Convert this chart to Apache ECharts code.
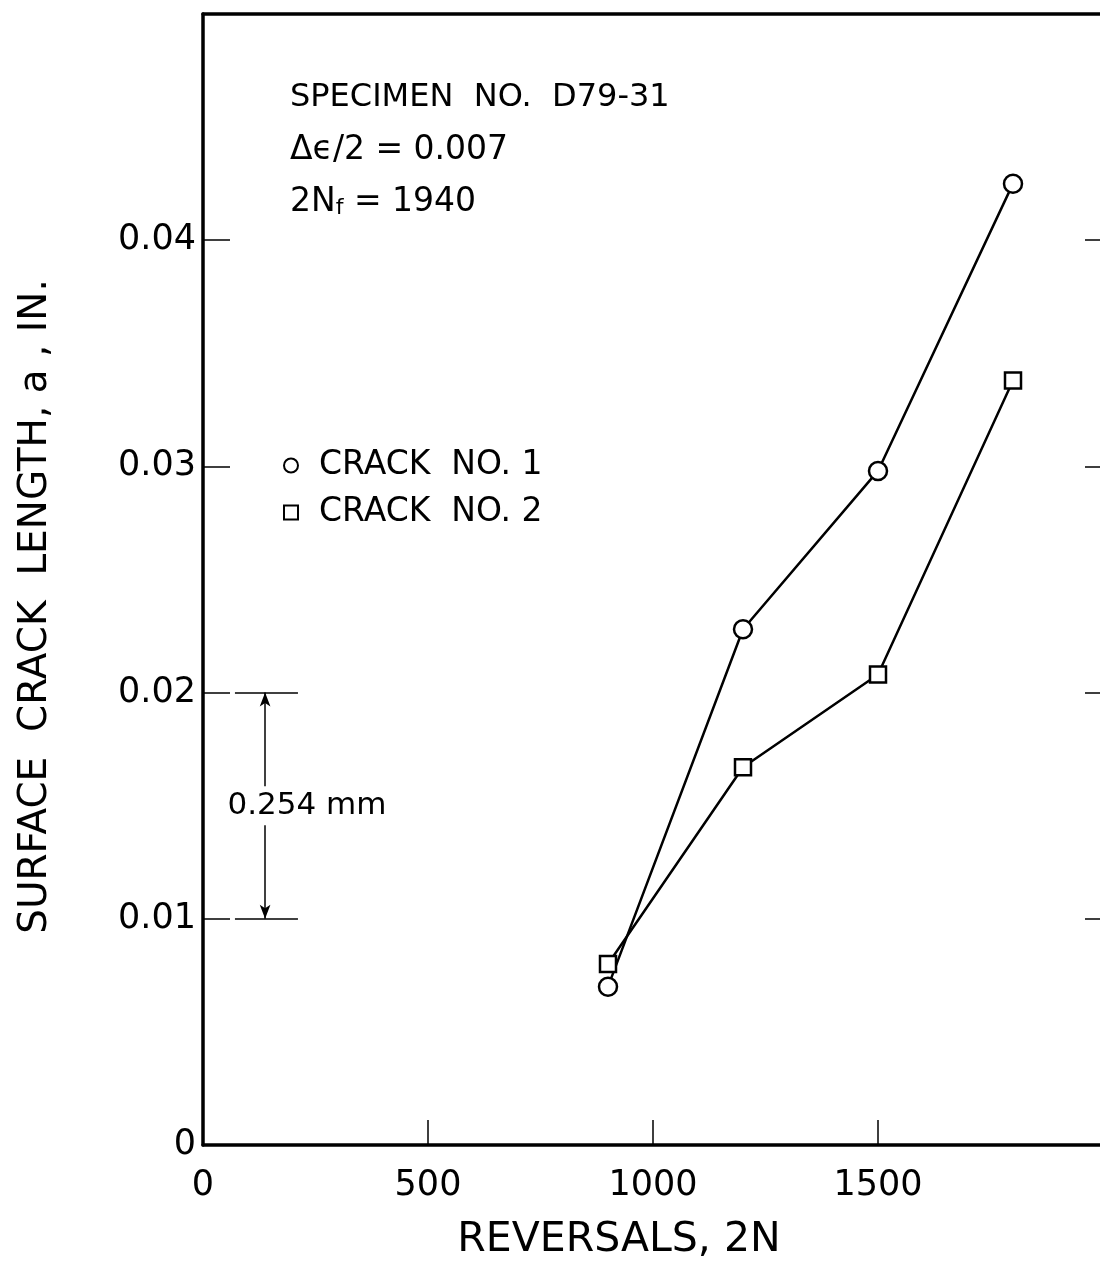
<!DOCTYPE html>
<html>
<head>
<meta charset="utf-8">
<script src="https://cdn.jsdelivr.net/npm/echarts@6/dist/echarts.min.js"></script>
<style>html,body{margin:0;padding:0;background:#fff}#c{width:1100px;height:1266px}</style>
</head>
<body>
<div id="c"></div>
<script>
// Data
const reversals = [900, 1200, 1500, 1800];
const crack1 = [0.0070, 0.0228, 0.0298, 0.0425];
const crack2 = [0.0080, 0.0167, 0.0208, 0.0338];
const seriesNames = ['CRACK  NO. 1', 'CRACK  NO. 2'];
const xTicks = [0, 500, 1000, 1500];
const yTicks = [0, 0.01, 0.02, 0.03, 0.04];
const scaleBarX = [71, 138, 211];
const scaleBarY = [0.01, 0.02];
const scaleBarLabel = '0.254 mm';
const notes = ['SPECIMEN  NO.  D79-31', 'Δϵ/2 = 0.007'];

const FONT = 'DejaVu Sans';
const chart = echarts.init(document.getElementById('c'), null, {renderer: 'canvas'});

function pairs(xs, ys) { return xs.map((x, i) => [x, ys[i]]); }

const markerStyle = {color: '#fff', borderColor: '#000', borderWidth: 2.5};

chart.setOption({
  backgroundColor: '#fff',
  animation: false,
  textStyle: {fontFamily: FONT, color: '#000'},
  grid: {left: 203, top: 14, width: 900, height: 1131, containLabel: false, outerBoundsMode: 'none'},
  xAxis: [{
    type: 'value', position: 'bottom', min: 0, max: 2000, interval: 500,
    name: 'REVERSALS, 2N', nameLocation: 'middle', nameGap: 75,
    nameTextStyle: {fontSize: 41, color: '#000', fontFamily: FONT, padding: [0, 68, 0, 0]},
    axisLine: {show: true, onZero: false, lineStyle: {color: '#000', width: 3.5}},
    axisTick: {show: true, inside: true, length: 25, lineStyle: {color: '#000', width: 1.5}},
    axisLabel: {fontSize: 35, color: '#000', margin: 23, fontFamily: FONT,
      formatter: v => (xTicks.indexOf(v) >= 0 ? String(v) : '')},
    splitLine: {show: false}
  }, {
    type: 'value', position: 'top', min: 0, max: 2000, interval: 500,
    axisLine: {show: true, onZero: false, lineStyle: {color: '#000', width: 3.5}},
    axisTick: {show: false}, axisLabel: {show: false}, splitLine: {show: false}
  }],
  yAxis: [{
    type: 'value', position: 'left', min: 0, max: 0.05, interval: 0.01,
    name: 'SURFACE  CRACK  LENGTH, a , IN.', nameLocation: 'middle', nameGap: 148,
    nameTextStyle: {fontSize: 39, color: '#000', fontFamily: FONT, padding: [0, 54, 0, 0]},
    axisLine: {show: true, onZero: false, lineStyle: {color: '#000', width: 3.5}},
    axisTick: {show: true, inside: true, length: 27, lineStyle: {color: '#000', width: 1.5}},
    axisLabel: {fontSize: 35, color: '#000', margin: 7, fontFamily: FONT,
      formatter: v => {
        const hit = yTicks.find(t => Math.abs(t - v) < 1e-9);
        if (hit === undefined) return '';
        return hit === 0 ? '0' : hit.toFixed(2);
      }},
    splitLine: {show: false}
  }, {
    type: 'value', position: 'right', min: 0, max: 0.05, interval: 0.01,
    axisLine: {show: true, onZero: false, lineStyle: {color: '#000', width: 3.5}},
    axisTick: {show: true, inside: true, length: 18, lineStyle: {color: '#000', width: 1.5}},
    axisLabel: {show: false}, splitLine: {show: false}
  }],
  legend: {
    orient: 'vertical', left: 278, top: 444, itemGap: 14,
    itemWidth: 14, itemHeight: 14,
    textStyle: {fontSize: 33, color: '#000', fontFamily: FONT, padding: [0, 0, 0, 16]},
    data: [
      {name: seriesNames[0], icon: 'circle', itemStyle: {color: '#fff', borderColor: '#000', borderWidth: 2}},
      {name: seriesNames[1], icon: 'rect', itemStyle: {color: '#fff', borderColor: '#000', borderWidth: 2}}
    ]
  },
  series: [{
    name: seriesNames[0], type: 'line', data: pairs(reversals, crack1),
    symbol: 'circle', symbolSize: 18, itemStyle: markerStyle,
    lineStyle: {color: '#000', width: 2.5}, z: 3,
    markLine: {
      silent: true, symbol: 'none', animation: false,
      lineStyle: {color: '#000', width: 1.5, type: 'solid'},
      label: {show: false},
      data: [
        [{coord: [scaleBarX[0], scaleBarY[1]]}, {coord: [scaleBarX[2], scaleBarY[1]]}],
        [{coord: [scaleBarX[0], scaleBarY[0]]}, {coord: [scaleBarX[2], scaleBarY[0]]}],
        [{coord: [scaleBarX[1], scaleBarY[1]], symbol: 'arrow', symbolSize: [8, 14]},
         {coord: [scaleBarX[1], scaleBarY[0]], symbol: 'arrow', symbolSize: [8, 14]}]
      ]
    },
    markPoint: {
      silent: true, animation: false,
      symbol: 'rect', symbolSize: 1, itemStyle: {color: 'rgba(0,0,0,0)'},
      label: {show: true, position: 'inside', formatter: scaleBarLabel, fontSize: 31,
        color: '#000', fontFamily: FONT, backgroundColor: '#fff', padding: [4, 2]},
      data: [{coord: [231, (scaleBarY[0] + scaleBarY[1]) / 2]}]
    }
  }, {
    name: seriesNames[1], type: 'line', data: pairs(reversals, crack2),
    symbol: 'rect', symbolSize: 16, itemStyle: markerStyle,
    lineStyle: {color: '#000', width: 2.5}, z: 3
  }],
  graphic: [{
    type: 'text', left: 290, top: 82,
    style: {text: notes[0], fontSize: 32, fontFamily: FONT, fill: '#000'}
  }, {
    type: 'text', left: 290, top: 134,
    style: {text: notes[1], fontSize: 33, fontFamily: FONT, fill: '#000'}
  }, {
    type: 'text', left: 290, top: 186,
    style: {
      text: '{a|2N}{s|f}{a| = 1940}',
      rich: {
        a: {fontSize: 33, fontFamily: FONT, fill: '#000', verticalAlign: 'bottom'},
        s: {fontSize: 22, fontFamily: FONT, fill: '#000', padding: [16, 0, 0, 0], verticalAlign: 'bottom'}
      }
    }
  }]
});
</script>
</body>
</html>
